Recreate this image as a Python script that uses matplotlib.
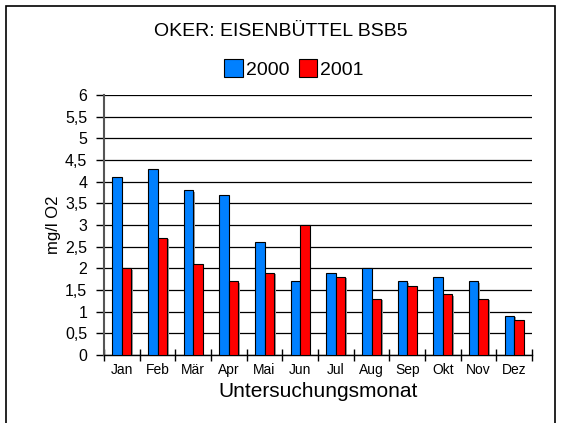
import matplotlib
matplotlib.use("Agg")
import matplotlib.pyplot as plt
import numpy as np
from matplotlib.patches import Rectangle

plt.rcParams['font.family'] = ['Liberation Sans', 'DejaVu Sans']

months = ["Jan", "Feb", "Mär", "Apr", "Mai", "Jun", "Jul", "Aug", "Sep", "Okt", "Nov", "Dez"]
v2000 = [4.1, 4.3, 3.8, 3.7, 2.6, 1.7, 1.9, 2.0, 1.7, 1.8, 1.7, 0.9]
v2001 = [2.0, 2.7, 2.1, 1.7, 1.9, 3.0, 1.8, 1.3, 1.6, 1.4, 1.3, 0.8]
yticks = [0, 0.5, 1, 1.5, 2, 2.5, 3, 3.5, 4, 4.5, 5, 5.5, 6]
ytick_labels = ["0", "0,5", "1", "1,5", "2", "2,5", "3", "3,5", "4", "4,5", "5", "5,5", "6"]

W, H = 561, 423
fig = plt.figure(figsize=(W / 100, H / 100), dpi=100)
ax = fig.add_axes([104 / W, 1 - 355 / H, (532 - 104) / W, (355 - 95) / H])

x = np.arange(len(months))
bw = 0.27
c_blue = "#0080FF"
c_red = "#FF0000"
# shadows
ax.bar(x - bw / 2 + 0.04, v2000, bw, bottom=-0.03, color="#999999", zorder=2, linewidth=0)
ax.bar(x + bw / 2 + 0.04, v2001, bw, bottom=-0.03, color="#999999", zorder=2, linewidth=0)
ax.bar(x - bw / 2, v2000, bw, color=c_blue, edgecolor="black", linewidth=0.8, zorder=3)
ax.bar(x + bw / 2, v2001, bw, color=c_red, edgecolor="black", linewidth=0.8, zorder=3)

ax.set_xlim(-0.5, len(months) - 0.5)
ax.set_ylim(0, 6)
ax.set_yticks(yticks)
ax.set_yticklabels(ytick_labels, fontsize=11.5)
ax.yaxis.grid(True, color="black", linewidth=0.9, zorder=1)
ax.set_axisbelow(True)

ax.set_xticks(x)
ax.set_xticklabels(months, fontsize=10)
ax.tick_params(axis='x', length=0, pad=6)
ax.set_xticks(np.arange(-0.5, len(months)), minor=True)
ax.tick_params(axis='x', which='minor', length=9, width=1, direction='inout')
ax.tick_params(axis='y', length=6, width=1, direction='out', pad=6)

for s in ["top", "right"]:
    ax.spines[s].set_visible(False)
ax.spines["left"].set_color("#555555")
ax.spines["left"].set_linewidth(1.5)
ax.spines["bottom"].set_linewidth(1.0)

ax.set_xlabel("Untersuchungsmonat", fontsize=15, labelpad=3)
ax.set_ylabel("mg/l O2", fontsize=12, labelpad=3)

fig.text(281 / W, 1 - 31 / H, "OKER: EISENBÜTTEL BSB5", ha="center", va="center", fontsize=14)

handles = [Rectangle((0, 0), 1, 1, facecolor=c_blue, edgecolor="black", linewidth=0.8),
           Rectangle((0, 0), 1, 1, facecolor=c_red, edgecolor="black", linewidth=0.8)]
fig.legend(handles, ["2000", "2001"], loc="center", bbox_to_anchor=(294 / W, 1 - 69 / H),
           ncol=2, frameon=False, fontsize=14, handlelength=0.95, handleheight=1.0,
           handletextpad=0.15, columnspacing=0.5, borderpad=0)

border = Rectangle((6 / W, -0.05), (555 - 6) / W, 1 - 6 / H + 0.05, transform=fig.transFigure,
                   fill=False, edgecolor="black", linewidth=1.2)
fig.patches.append(border)

fig.savefig("out.png", dpi=100)
